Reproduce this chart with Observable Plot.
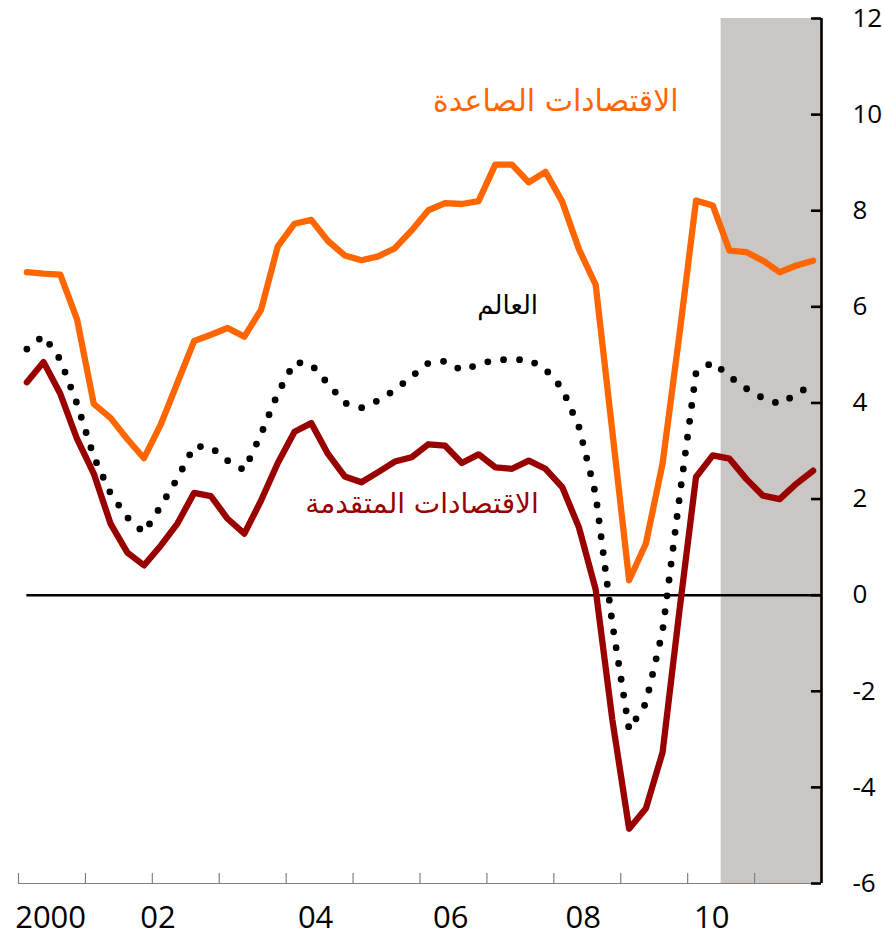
<!DOCTYPE html>
<html>
<head>
<meta charset="utf-8">
<script src="https://cdn.jsdelivr.net/npm/d3@7"></script>
<script src="https://cdn.jsdelivr.net/npm/@observablehq/plot@0.6"></script>
<style>
  html, body { margin: 0; padding: 0; background: #ffffff; }
  #chart { width: 885px; height: 939px; overflow: hidden; }
</style>
</head>
<body>
<div id="chart"></div>
<script>
// ---- Data (quarterly, 2000Q1 - 2011Q4) ----
const startYear = 2000;
const quarterLabels = d3.range(48).map(i => `${startYear + Math.floor(i / 4)}Q${(i % 4) + 1}`);

const emerging = [6.72, 6.69, 6.67, 5.74, 3.98, 3.69, 3.25, 2.85, 3.55, 4.42,
                  5.29, 5.42, 5.56, 5.38, 5.94, 7.26, 7.73, 7.81, 7.37, 7.07,
                  6.97, 7.05, 7.22, 7.59, 8.01, 8.16, 8.14, 8.20, 8.96, 8.96,
                  8.59, 8.81, 8.19, 7.20, 6.46, 3.40, 0.31, 1.07, 2.74, 5.40,
                  8.21, 8.11, 7.17, 7.14, 6.96, 6.72, 6.86, 6.96];

const world = [5.12, 5.40, 4.90, 3.98, 2.88, 2.12, 1.62, 1.30, 1.85, 2.43,
               3.10, 3.08, 2.80, 2.60, 3.35, 4.20, 4.85, 4.80, 4.40, 4.00,
               3.90, 4.05, 4.27, 4.55, 4.83, 4.87, 4.68, 4.80, 4.90, 4.90,
               4.90, 4.70, 4.30, 3.50, 2.10, -0.60, -2.80, -2.25, -0.75, 2.00,
               4.63, 4.85, 4.55, 4.30, 4.10, 3.98, 4.18, 4.40];

const advanced = [4.43, 4.85, 4.19, 3.25, 2.53, 1.49, 0.89, 0.62, 1.03, 1.49,
                  2.13, 2.06, 1.59, 1.28, 1.97, 2.75, 3.40, 3.58, 2.94, 2.47,
                  2.35, 2.56, 2.78, 2.87, 3.14, 3.11, 2.75, 2.93, 2.66, 2.63,
                  2.80, 2.63, 2.25, 1.41, 0.12, -2.60, -4.86, -4.44, -3.27, -0.35,
                  2.46, 2.91, 2.84, 2.42, 2.07, 2.00, 2.32, 2.59];

const seriesNames = ["الاقتصادات الصاعدة", "العالم", "الاقتصادات المتقدمة"];

// projection period (shaded)
const projectionStart = 2010.5;
const axisEnd = 2012;

// axis ticks / labels
const yearTicks = d3.range(2000, 2013);
const xTickLabels = ["2000", "02", "04", "06", "08", "10"];
const xTickLabelPos = [2000.48, 2002.085, 2004.44, 2006.46, 2008.44, 2010.36];
const yTicks = [12, 10, 8, 6, 4, 2, 0, -2, -4, -6];

// series label anchors (annotation placement)
const seriesLabelX = [2008.03, 2007.31, 2006.03];
const seriesLabelY = [10.08, 5.86, 1.70];

// ---- Build table ----
function quarterToX(q) {
  const y = +q.slice(0, 4), k = +q.slice(5);
  return y + (k - 0.5) / 4;
}
const rows = quarterLabels.map((q, i) => ({
  date: quarterToX(q), emerging: emerging[i], world: world[i], advanced: advanced[i]
}));
const xLabelRows = xTickLabels.map((t, i) => ({t, x: xTickLabelPos[i]}));
const colors = ["#FF6600", "#000000", "#990000"];
const seriesLabels = seriesNames.map((name, i) => ({name, x: seriesLabelX[i], y: seriesLabelY[i], color: colors[i]}));
const labelFont = "'DejaVu Sans', sans-serif";

const chart = Plot.plot({
  width: 885,
  height: 939,
  marginLeft: 18,
  marginRight: 64,
  marginTop: 18,
  marginBottom: 56,
  x: {domain: [2000, axisEnd], axis: null},
  y: {domain: [-6, 12], axis: null},
  style: {fontFamily: "'Open Sans', 'DejaVu Sans', sans-serif", background: "#ffffff", overflow: "visible"},
  marks: [
    // shaded projection period
    Plot.rect([{x1: projectionStart, x2: axisEnd}], {x1: "x1", x2: "x2", y1: -6, y2: 12, fill: "#CAC6C3"}),
    // bottom axis line and ticks
    Plot.ruleY([-6], {x1: 2000, x2: axisEnd, stroke: "#808080", strokeWidth: 1.2}),
    Plot.ruleX(yearTicks, {x: d => d, y1: -6, y2: -6, insetTop: -10, stroke: "#808080", strokeWidth: 1.2}),
    Plot.text(xLabelRows, {x: "x", y: -6, text: "t", dy: 35, fontSize: 31, fill: "#000"}),
    // zero line
    Plot.ruleY([0], {x1: rows[0].date, x2: axisEnd, stroke: "#000", strokeWidth: 2.5}),
    // series
    Plot.line(rows, {x: "date", y: "emerging", stroke: colors[0], strokeWidth: 6.3, strokeLinejoin: "round", strokeLinecap: "round"}),
    Plot.line(rows, {x: "date", y: "advanced", stroke: colors[2], strokeWidth: 6.3, strokeLinejoin: "round", strokeLinecap: "round"}),
    Plot.line(rows, {x: "date", y: "world", stroke: colors[1], strokeWidth: 6.8, strokeDasharray: "0 16", strokeLinecap: "round"}),
    // right axis
    Plot.ruleX([axisEnd], {x: d => d, y1: -6, y2: 12, stroke: "#000", strokeWidth: 2.6}),
    Plot.ruleY(yTicks, {y: d => d, x1: axisEnd, x2: axisEnd, insetLeft: -10, stroke: "#000", strokeWidth: 2.6}),
    Plot.text(yTicks, {x: axisEnd, y: d => d, text: d => String(d), textAnchor: "start", dx: 31, fontSize: 26, fill: "#000"}),
    // series labels
    Plot.text([seriesLabels[0]], {x: "x", y: "y", text: "name", fill: "color", fontSize: 30, lineAnchor: "bottom",
      fontFamily: labelFont, textAnchor: "middle"}),
    Plot.text([seriesLabels[1]], {x: "x", y: "y", text: "name", fill: "color", fontSize: 26, lineAnchor: "bottom",
      fontFamily: labelFont, textAnchor: "middle"}),
    Plot.text([seriesLabels[2]], {x: "x", y: "y", text: "name", fill: "color", fontSize: 28, lineAnchor: "bottom",
      fontFamily: labelFont, textAnchor: "middle"})
  ]
});
document.getElementById("chart").appendChild(chart);
</script>
</body>
</html>
